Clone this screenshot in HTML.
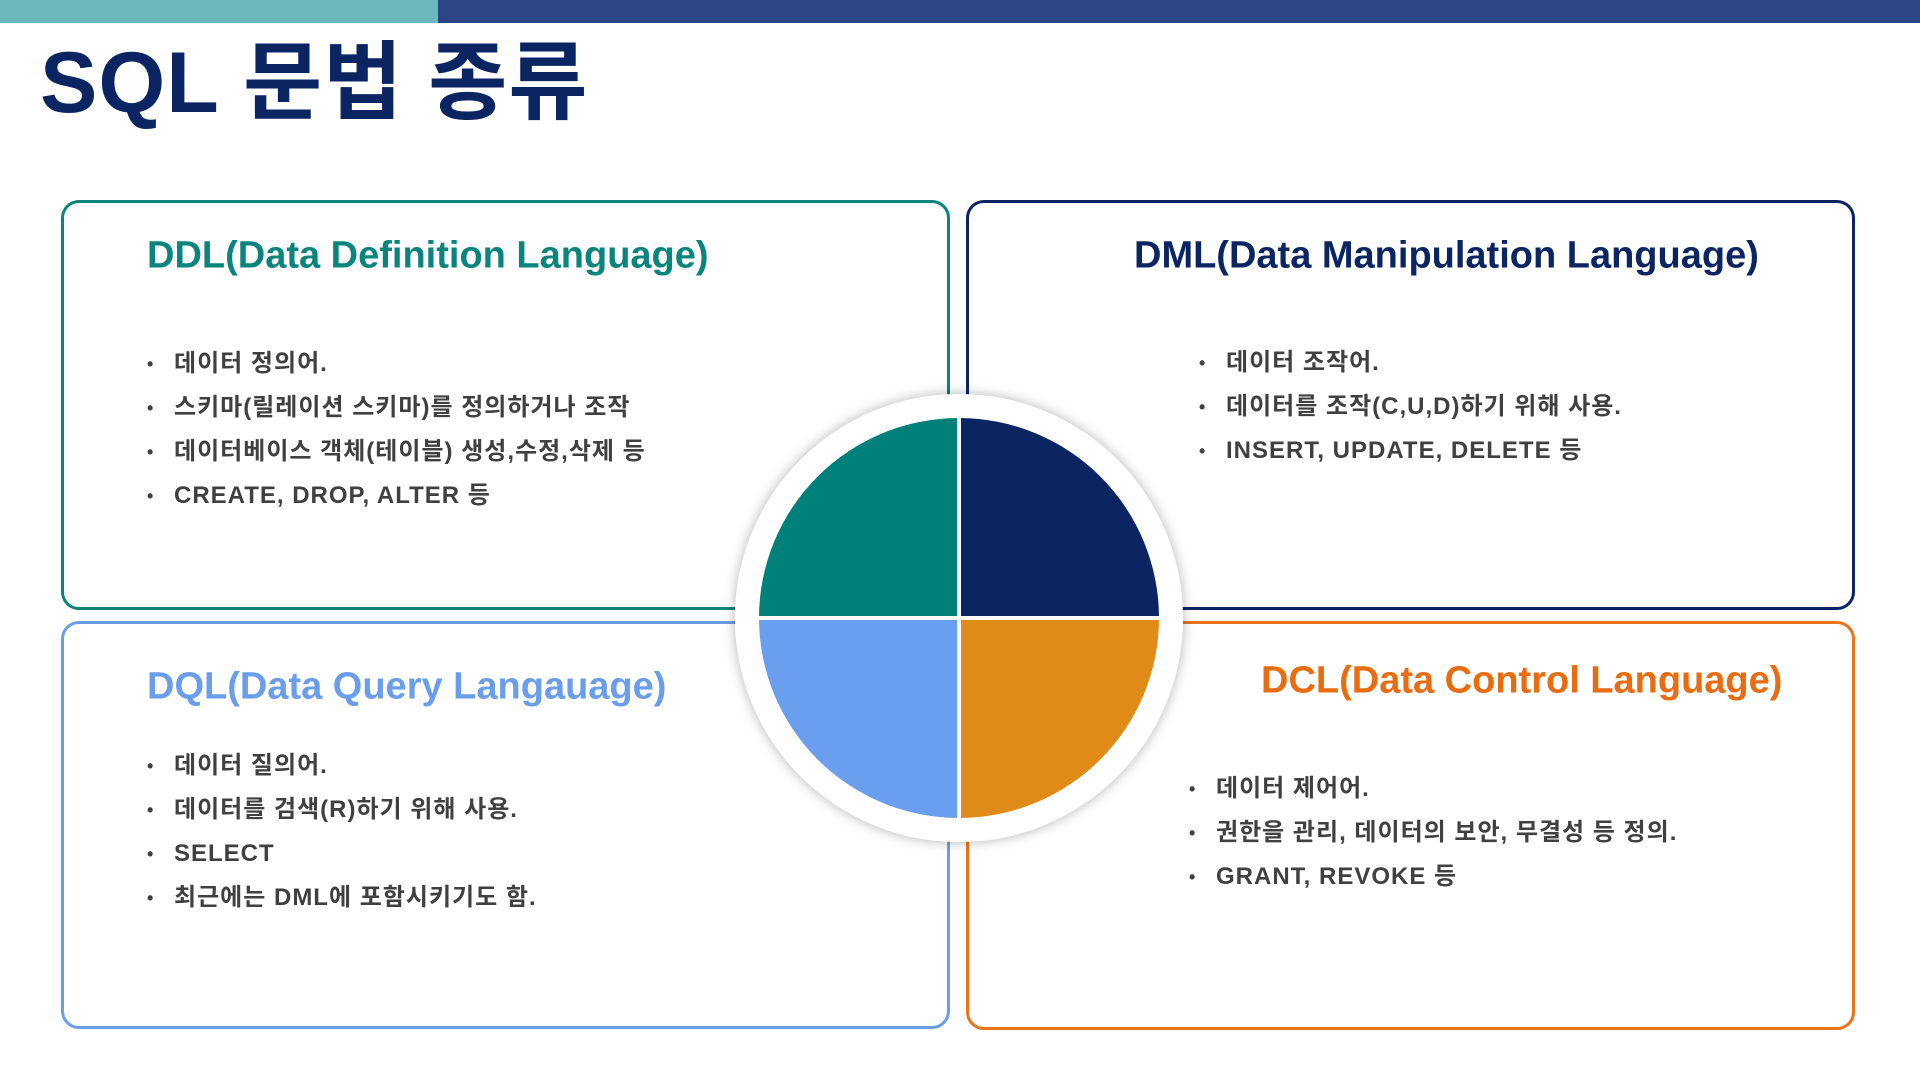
<!DOCTYPE html>
<html><head><meta charset="utf-8"><style>
body{margin:0;width:1920px;height:1080px;background:#fff;position:relative;overflow:hidden;font-family:"Liberation Sans","Noto Sans CJK KR",sans-serif}
.bar1{position:absolute;left:0;top:0;width:438px;height:23px;background:#6bb8bd}
.bar2{position:absolute;left:438px;top:0;width:1482px;height:23px;background:#2b4587}
h1{position:absolute;left:40px;top:12px;margin:0;font-size:86px;font-weight:bold;color:#0b2563;letter-spacing:1px}
.box{position:absolute;border:3.5px solid;border-radius:18px;box-sizing:border-box}
.t{position:absolute;font-size:38px;font-weight:bold;white-space:nowrap;transform:translateY(-50%)}
ul{position:absolute;margin:0;padding:0;list-style:none}
li{position:relative;font-size:24px;font-weight:bold;color:#404040;height:44px;line-height:44px;white-space:nowrap;letter-spacing:1px}
li:before{content:"•";position:absolute;left:-27px;font-size:18px}
</style></head><body>
<div class="bar1"></div><div class="bar2"></div>
<h1>SQL 문법 종류</h1>
<div class="box" style="left:61px;top:200px;width:889px;height:410px;border-color:#0a857d"></div>
<div class="box" style="left:966px;top:200px;width:889px;height:410px;border-color:#0b2563"></div>
<div class="box" style="left:61px;top:621px;width:889px;height:408px;border-color:#6a9eea"></div>
<div class="box" style="left:966px;top:621px;width:889px;height:409px;border-color:#ea7419"></div>
<div class="t" style="left:147px;top:256px;color:#0a857d">DDL(Data Definition Language)</div>
<div class="t" style="left:1134px;top:256px;color:#0b2563">DML(Data Manipulation Language)</div>
<div class="t" style="left:147px;top:687px;color:#6a9eea">DQL(Data Query Langauage)</div>
<div class="t" style="left:1261px;top:681px;color:#ea6c10">DCL(Data Control Language)</div>
<ul style="left:174px;top:342px"><li>데이터 정의어.</li><li>스키마(릴레이션 스키마)를 정의하거나 조작</li><li>데이터베이스 객체(테이블) 생성,수정,삭제 등</li><li>CREATE, DROP, ALTER 등</li></ul>
<ul style="left:1226px;top:341px"><li>데이터 조작어.</li><li>데이터를 조작(C,U,D)하기 위해 사용.</li><li>INSERT, UPDATE, DELETE 등</li></ul>
<ul style="left:174px;top:744px"><li>데이터 질의어.</li><li>데이터를 검색(R)하기 위해 사용.</li><li>SELECT</li><li>최근에는 DML에 포함시키기도 함.</li></ul>
<ul style="left:1216px;top:767px"><li>데이터 제어어.</li><li>권한을 관리, 데이터의 보안, 무결성 등 정의.</li><li>GRANT, REVOKE 등</li></ul>
<svg style="position:absolute;left:709px;top:368px" width="500" height="500" viewBox="0 0 500 500">
<defs><filter id="s" x="-20%" y="-20%" width="140%" height="140%"><feDropShadow dx="0" dy="0" stdDeviation="6" flood-color="#000" flood-opacity="0.3"/></filter></defs>
<circle cx="250" cy="250" r="224" fill="#fff" filter="url(#s)"/>
<path d="M250 250 L250 50 A200 200 0 0 1 450 250 Z" fill="#0b2563"/>
<path d="M250 250 L450 250 A200 200 0 0 1 250 450 Z" fill="#e08a17"/>
<path d="M250 250 L250 450 A200 200 0 0 1 50 250 Z" fill="#6a9eee"/>
<path d="M250 250 L50 250 A200 200 0 0 1 250 50 Z" fill="#00807a"/>
<line x1="250" y1="40" x2="250" y2="460" stroke="#fff" stroke-width="4"/>
<line x1="40" y1="250" x2="460" y2="250" stroke="#fff" stroke-width="4"/>
</svg>
</body></html>
